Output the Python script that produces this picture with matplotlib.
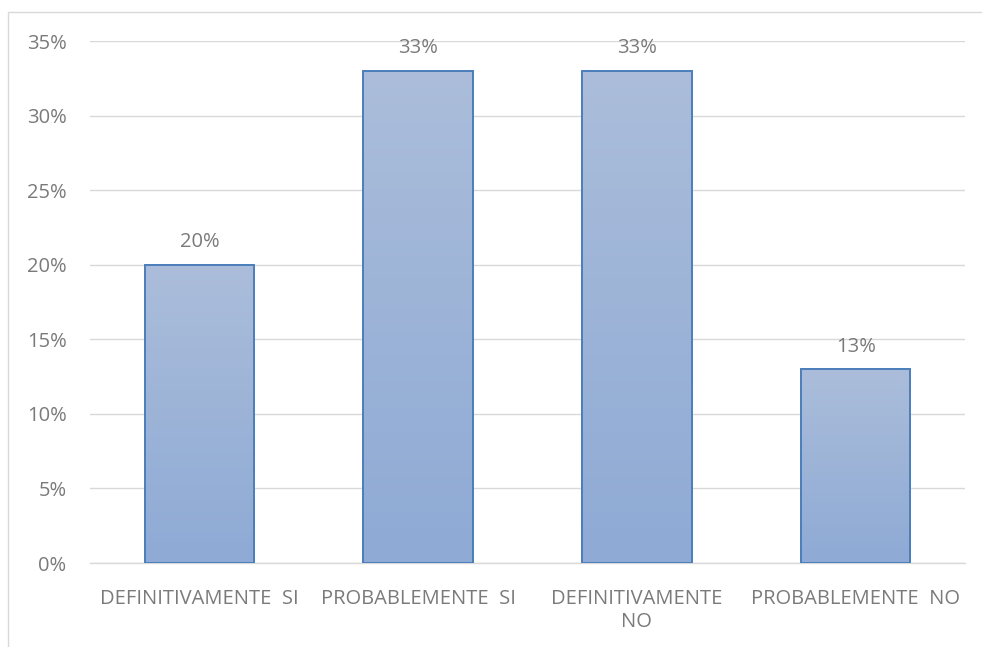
import numpy as np
import matplotlib
matplotlib.use("Agg")
import matplotlib.pyplot as plt
from matplotlib.colors import LinearSegmentedColormap
from matplotlib.patches import Rectangle

categories = ["DEFINITIVAMENTE  SI", "PROBABLEMENTE  SI", "DEFINITIVAMENTE\nNO", "PROBABLEMENTE  NO"]
values = [20, 33, 33, 13]
yticks = [0, 5, 10, 15, 20, 25, 30, 35]

plt.rcParams["font.family"] = ["Open Sans", "DejaVu Sans"]
text_color = "#7a7a7a"
grid_color = "#d9d9d9"

fig = plt.figure(figsize=(9.82, 6.47), dpi=100)
fig.patch.set_facecolor("white")
ax = fig.add_axes([0.0917, 0.1298, 0.891, 0.8068])

x = np.arange(len(categories))
bars = ax.bar(x, values, width=0.5, facecolor="none", edgecolor="#4a7ebb",
              linewidth=1.4, zorder=3)

# vertical gradient fill inside each bar
cmap = LinearSegmentedColormap.from_list("barfill", ["#8eaad5", "#abbdda"])
grad = np.linspace(0, 1, 256).reshape(-1, 1)
for b in bars:
    x0, y0 = b.get_x(), b.get_y()
    w, h = b.get_width(), b.get_height()
    im = ax.imshow(grad, cmap=cmap, origin="lower", aspect="auto",
                   extent=[x0, x0 + w, y0, y0 + h], zorder=2)
    im.set_clip_path(b)

for xi, v in zip(x, values):
    ax.annotate(f"{v}%", (xi, v), xytext=(0, 9), textcoords="offset points",
                ha="center", va="bottom", fontsize=14.5, color=text_color, zorder=4)

ax.set_xlim(-0.5, len(categories) - 0.5)
ax.set_ylim(0, 35)
ax.set_yticks(yticks)
ax.set_yticklabels([f"{t}%" for t in yticks])
ax.set_xticks(x)
ax.set_xticklabels(categories, linespacing=1.15)
ax.tick_params(axis="both", length=0, labelsize=14.5, labelcolor=text_color)
ax.tick_params(axis="y", pad=17)
ax.tick_params(axis="x", pad=19)
ax.grid(axis="y", color=grid_color, linewidth=1.0, zorder=0)
ax.set_axisbelow(True)
for s in ["top", "right", "left"]:
    ax.spines[s].set_visible(False)
ax.spines["bottom"].set_color(grid_color)
ax.spines["bottom"].set_linewidth(1.0)

# chart frame
fig.add_artist(Rectangle((8 / 982, -0.05), 1.1, 1 - 12 / 647 + 0.05,
                         transform=fig.transFigure, fill=False,
                         edgecolor="#d9d9d9", linewidth=1.0))

fig.savefig("out.png", dpi=100, facecolor="white")
